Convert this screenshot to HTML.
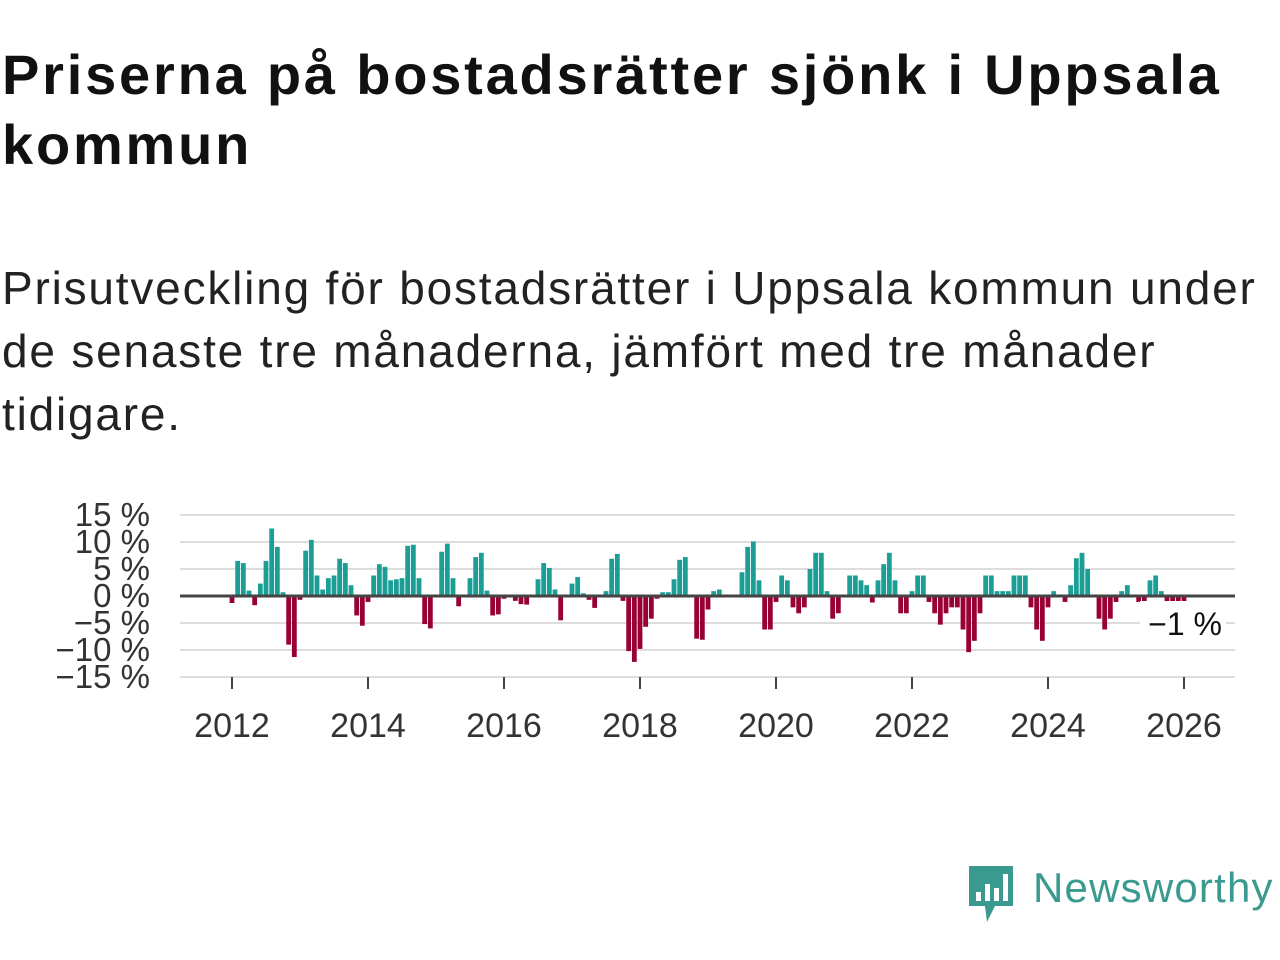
<!DOCTYPE html>
<html><head><meta charset="utf-8"><style>
body{margin:0;width:1280px;height:960px;background:#fff;font-family:"Liberation Sans","DejaVu Sans",sans-serif;color:#111;position:relative;overflow:hidden}
h1{position:absolute;left:2px;top:40px;margin:0;font-size:56px;line-height:70px;font-weight:bold;width:1280px;letter-spacing:2.8px;white-space:nowrap}
p{position:absolute;left:2px;top:257px;margin:0;font-size:46px;line-height:63px;width:1280px;color:#222;letter-spacing:1.8px;white-space:nowrap}
#chart{position:absolute;left:0;top:490px}
.logo{position:absolute;left:965px;top:862px}
.logotext{position:absolute;left:1033px;top:864px;font-size:42px;color:#3a9a8f;letter-spacing:1.2px}
</style></head><body>
<h1>Priserna på bostadsrätter sjönk i Uppsala<br>kommun</h1>
<p>Prisutveckling för bostadsrätter i Uppsala kommun under<br>de senaste tre månaderna, jämfört med tre månader<br>tidigare.</p>
<svg id="chart" width="1280" height="260"></svg>
<svg class="logo" width="52" height="64">
<path d="M4 4 H48 V44 H30 L22 60 L20 44 H4 Z" fill="#3a9a8f"/>
<rect x="11" y="30" width="5" height="9" fill="#fff"/><rect x="20" y="22" width="5" height="17" fill="#fff"/><rect x="29" y="26" width="5" height="13" fill="#fff"/><rect x="38" y="12" width="5" height="27" fill="#fff"/>
</svg>
<div class="logotext">Newsworthy</div>
<script>
const values=[-1.3,6.5,6.1,1.0,-1.7,2.3,6.5,12.5,9.1,0.7,-9.0,-11.3,
-0.7,8.4,10.4,3.8,1.2,3.3,3.8,6.9,6.1,2.0,-3.6,-5.5,
-1.1,3.8,5.9,5.4,2.9,3.1,3.3,9.3,9.5,3.3,-5.2,-6.0,
0,8.2,9.7,3.3,-1.9,0,3.3,7.2,8.0,1.0,-3.6,-3.4,
-0.5,-0.2,-0.9,-1.5,-1.6,0,3.1,6.1,5.2,1.2,-4.5,0,
2.3,3.5,0.5,-0.7,-2.2,0,0.9,6.9,7.8,-0.9,-10.2,-12.2,
-9.8,-5.7,-4.2,-0.5,0.7,0.7,3.1,6.7,7.2,0,-7.9,-8.1,
-2.5,0.9,1.2,0,0,0,4.4,9.1,10.1,2.9,-6.2,-6.2,
-1.1,3.8,2.9,-2.1,-3.2,-2.1,5.0,8.0,8.0,0.9,-4.2,-3.2,
0,3.8,3.8,2.9,2.0,-1.2,2.9,5.9,8.0,2.9,-3.2,-3.2,
0.9,3.8,3.8,-1.1,-3.2,-5.3,-3.2,-2.1,-2.1,-6.2,-10.4,-8.3,
-3.2,3.8,3.8,0.9,0.9,0.9,3.8,3.8,3.8,-2.1,-6.2,-8.3,
-2.1,0.9,0,-1.1,2.0,7.0,8.0,5.0,0,-4.2,-6.2,-4.2,
-1.1,0.9,2.0,0,-1.1,-1.1,2.9,3.8,0.9,-2.1,-2.5,-2.1,-1.1];
const startYear=2012;
const yTicks=[15,10,5,0,-5,-10,-15];
const xTickYears=[2012,2014,2016,2018,2020,2022,2024,2026];
const lastLabel="−1 %";
const NS="http://www.w3.org/2000/svg";
const svg=document.getElementById('chart');
const OY=490;
const x=m=>232+m*(68/12);
const y=v=>596-OY-v*5.4;
function mk(t,a){const e=document.createElementNS(NS,t);for(const k in a)e.setAttribute(k,a[k]);svg.appendChild(e);return e;}
yTicks.forEach(v=>{
 if(v!==0){const g=mk('line',{x1:180,x2:1235,y1:y(v),y2:y(v),stroke:'#ddd','stroke-width':2});
 
 }
 const t=mk('text',{x:150,y:y(v)+11,'text-anchor':'end','font-size':33,fill:'#333','font-family':'Liberation Sans, sans-serif'});
 t.textContent=(v<0?'−'+(-v):v)+' %';
 
 
});
values.forEach((v,i)=>{
 if(v===0)return;
 const r=mk('rect',{x:x(i)-2.4,width:4.8,y:Math.min(y(v),y(0)),height:Math.abs(y(v)-y(0)),fill:v>0?'#1a9e96':'#990033'});
 
 
});
const z=mk('line',{x1:180,x2:1235,y1:y(0),y2:y(0),stroke:'#444','stroke-width':3});


xTickYears.forEach(yr=>{
 const m=(yr-startYear)*12;
 const tk=mk('line',{x1:x(m),x2:x(m),y1:y(-15),y2:y(-15)+12,stroke:'#444','stroke-width':2});
 
 
 const t=mk('text',{x:x(m),y:247,'text-anchor':'middle','font-size':34,fill:'#333','font-family':'Liberation Sans, sans-serif'});
 t.textContent=yr;
 
 
});
const bg=mk('rect',{x:1140,y:y(-5)-22,width:86,height:40,fill:'#fff'});


const lt=mk('text',{x:1222,y:y(-5)+12,'text-anchor':'end','font-size':32,fill:'#111','font-family':'Liberation Sans, sans-serif'});
lt.textContent=lastLabel;


</script>
</body></html>
